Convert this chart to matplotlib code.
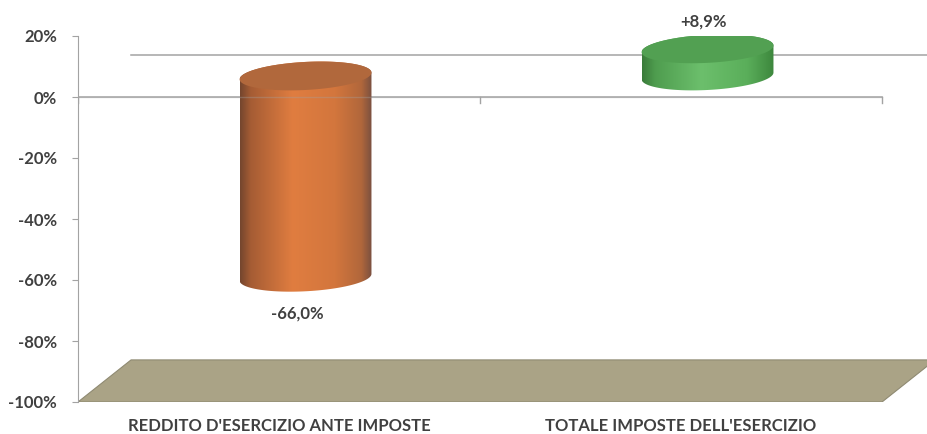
import numpy as np
import matplotlib
matplotlib.use("Agg")
import matplotlib.pyplot as plt
from matplotlib.colors import LinearSegmentedColormap
from matplotlib.patches import Polygon

# ── Data ──────────────────────────────────────────────────
categories   = ["REDDITO D'ESERCIZIO ANTE IMPOSTE", "TOTALE IMPOSTE DELL'ESERCIZIO"]
values       = [-66.0, 8.9]
y_ticks      = [20, 0, -20, -40, -60, -80, -100]
y_tick_lbls  = ["20%", "0%", "-20%", "-40%", "-60%", "-80%", "-100%"]

# ── Style ─────────────────────────────────────────────────
plt.rcParams['font.family'] = ['Lato', 'DejaVu Sans']
TXT   = '#404040'
AXC   = '#a3a3a3'
DX    = 0.132     # depth offset, x units (category = 1)
DY    = 13.8      # depth offset, % units
HW    = 0.164     # cylinder half width
RY    = 4.6       # ellipse half height (%)
SHEAR = 1.1       # tilt of the ellipses (%)
FS    = 12

body_colors = [
    [(0.0, '#74462e'), (0.08, '#a55c34'), (0.4, '#e07d40'),
     (0.72, '#d3763d'), (0.92, '#b1673b'), (1.0, '#7a5040')],
    [(0.0, '#3a7b3a'), (0.1, '#4f9d4f'), (0.45, '#6cbf6c'),
     (0.8, '#5aae5a'), (1.0, '#3d873d')],
]
cap_colors = ['#b1683c', '#52a052']


def ellipse_pts(xc, yc, t):
    return np.column_stack([xc + HW * np.cos(t),
                            yc + RY * np.sin(t) + SHEAR * np.cos(t)])


def cylinder(ax, xc, y_top, y_bot, stops, cap):
    t_low = np.linspace(np.pi, 2 * np.pi, 80)
    t_up = np.linspace(0, np.pi, 80)
    body = np.vstack([ellipse_pts(xc, y_bot, t_low),
                      ellipse_pts(xc, y_top, t_up)])
    poly = Polygon(body, closed=True, facecolor='none', edgecolor='none', zorder=3)
    ax.add_patch(poly)
    cmap = LinearSegmentedColormap.from_list('cyl', stops)
    grad = np.linspace(0, 1, 256)[None, :]
    im = ax.imshow(grad, cmap=cmap, aspect='auto', zorder=3,
                   extent=[xc - HW, xc + HW, y_bot - RY - 3, y_top + RY + 3])
    im.set_clip_path(poly)
    top = ellipse_pts(xc, y_top, np.linspace(0, 2 * np.pi, 160))
    ax.add_patch(Polygon(top, closed=True, facecolor=cap,
                         edgecolor='none', zorder=4))


fig = plt.figure(figsize=(9.28, 4.34), dpi=100)
ax = fig.add_axes([78 / 928, 32 / 434, 850 / 928, 366 / 434])

# floor
floor = [(0, -100), (2.0, -100), (2.0 + DX, -100 + DY), (DX, -100 + DY)]
ax.add_patch(Polygon(floor, closed=True, facecolor='#aaa386',
                     edgecolor='#8f8a72', lw=0.8, zorder=1))

# back wall 0% line
ax.plot([DX, 2.2], [DY, DY], color=AXC, lw=1.1, zorder=2)

# front 0% axis with ticks
ax.plot([0, 2], [0, 0], color=AXC, lw=1.1, zorder=2)
for xt in [0, 1, 2]:
    ax.plot([xt, xt], [0, -2], color=AXC, lw=1.0, zorder=2)

# cylinders
for i, v in enumerate(values):
    xc = i + 0.5 + DX / 2
    y_top = max(v, 0) + DY / 2
    y_bot = min(v, 0) + DY / 2
    cylinder(ax, xc, y_top, y_bot, body_colors[i], cap_colors[i])
    lbl = f"{v:+.1f}%".replace('.', ',')
    if v < 0:
        ax.annotate(lbl, (xc, y_bot), xytext=(-6, -26), textcoords='offset points',
                    ha='center', va='center', fontsize=FS, fontweight='bold',
                    color=TXT, zorder=6)
    else:
        ax.annotate(lbl, (xc, y_top), xytext=(-3, 20), textcoords='offset points',
                    ha='center', va='center', fontsize=FS, fontweight='bold',
                    color=TXT, zorder=6, annotation_clip=False)

# faint axis line seen through the cylinder
ax.plot([0, 2], [0, 0], color=AXC, lw=1.0, alpha=0.35, zorder=5)

# category labels
for i, c in enumerate(categories):
    ax.annotate(c, (i + 0.5, -100), xytext=(0, -17), textcoords='offset points',
                ha='center', va='center', fontsize=FS, fontweight='bold',
                color=TXT, annotation_clip=False)

ax.set_xlim(0, 850 / 402)
ax.set_ylim(-100, 20)
ax.set_yticks(y_ticks)
ax.set_yticklabels(y_tick_lbls)
ax.set_xticks([])
for s in ['top', 'right', 'bottom']:
    ax.spines[s].set_visible(False)
ax.spines['left'].set_color(AXC)
ax.spines['left'].set_bounds(-100, 20)
ax.tick_params(axis='y', length=4, color=AXC, labelsize=FS,
               labelcolor=TXT, pad=11)
for t in ax.get_yticklabels():
    t.set_fontweight('bold')
ax.patch.set_alpha(0)

fig.savefig('out.png', dpi=100, facecolor='white')
